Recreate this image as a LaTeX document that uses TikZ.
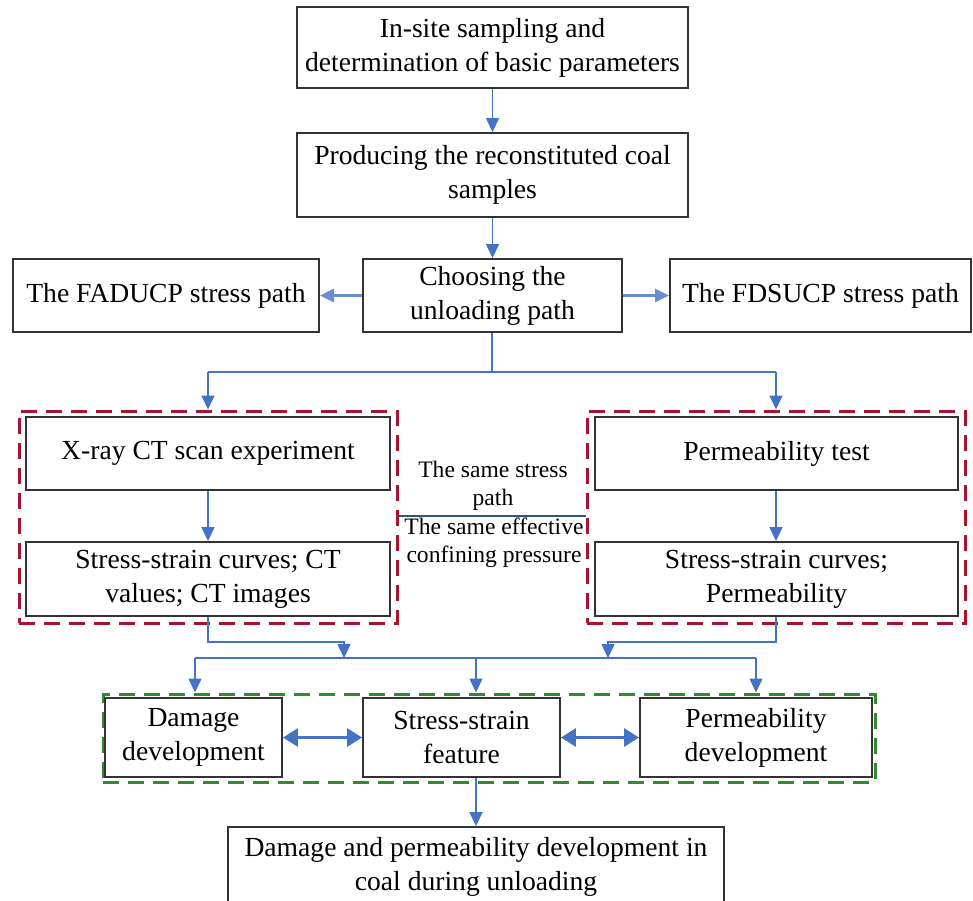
\documentclass[tikz,border=0pt]{standalone}
\usepackage{fontspec}
\setmainfont{Liberation Serif}
\usetikzlibrary{arrows.meta,fit,calc}
\definecolor{arrblue}{HTML}{4472C4}
\definecolor{dred}{HTML}{A8142F}
\definecolor{dgreen}{HTML}{2E8B2E}
\begin{document}
\begin{tikzpicture}[x=1pt,y=-1pt,
  box/.style={draw=black!80, line width=1.9pt, fill=white, inner sep=0pt, align=center,
    font=\fontsize{27.6pt}{34pt}\selectfont},
  lbl/.style={inner sep=0pt, align=center, font=\fontsize{23.6pt}{28pt}\selectfont},
  conn/.style={draw=arrblue, line width=1.5pt},
  arr/.style={conn, -{Triangle[length=14pt,width=13pt]}},
  darr/.style={draw=arrblue, line width=3pt, {Triangle[length=15pt,width=18pt]}-{Triangle[length=15pt,width=18pt]}},
  redbox/.style={draw=dred, line width=3pt, dash pattern=on 16pt off 9pt, inner sep=0pt},
  greenbox/.style={draw=dgreen, line width=3pt, dash pattern=on 16pt off 9pt, inner sep=0pt}]
\useasboundingbox (0,0) rectangle (973,900);
\clip (0,0) rectangle (973,900);

% dashed groups (drawn first)
\node[redbox, minimum width=378pt, minimum height=212pt] (rl) at (208,517) {};
\node[redbox, minimum width=378pt, minimum height=212pt] (rr) at (776,517) {};
\node[greenbox, minimum width=772pt, minimum height=88pt] (gb) at (489,738) {};

% boxes
\node[box, minimum width=391pt, minimum height=81pt] (b1) at (492.5,47.5) {In-site sampling and\\determination of basic parameters};
\node[box, minimum width=391pt, minimum height=84pt] (b2) at (492.5,175) {Producing the reconstituted coal\\samples};
\node[box, minimum width=259pt, minimum height=73pt] (b3) at (492.5,295.5) {Choosing the\\unloading path};
\node[box, minimum width=306pt, minimum height=73pt] (fad) at (166,295.5) {The FADUCP stress path};
\node[box, minimum width=301pt, minimum height=73pt] (fds) at (820.5,295.5) {The FDSUCP stress path};

\node[box, minimum width=364pt, minimum height=73pt] (xr) at (208,453.5) {X-ray CT scan experiment};
\node[box, minimum width=364pt, minimum height=74pt] (ss1) at (208,579) {Stress-strain curves; CT\\values; CT images};
\node[box, minimum width=363pt, minimum height=73pt] (pt) at (776.5,453.5) {Permeability test};
\node[box, minimum width=363pt, minimum height=74pt] (ss2) at (776.5,579) {Stress-strain curves;\\Permeability};

\node[lbl] (l1) at (493,486) {The same stress\\path};
\node[lbl] (l2) at (494,543) {The same effective\\confining pressure};

\node[box, minimum width=177pt, minimum height=79pt] (dmg) at (193.5,737.5) {Damage\\development};
\node[box, minimum width=197pt, minimum height=79pt] (ssf) at (461.5,737.5) {Stress-strain\\feature};
\node[box, minimum width=232pt, minimum height=79pt] (pd) at (756,737.5) {Permeability\\development};

\node[box, minimum width=496pt, minimum height=80pt] (fin) at (476,867) {Damage and permeability development in\\coal during unloading};

% connectors top
\draw[arr] (b1) -- (b2);
\draw[arr] (b2) -- (b3);
\draw[arr, draw=arrblue!80, line width=2.6pt] (b3) -- (fad);
\draw[arr, draw=arrblue!80, line width=2.6pt] (b3) -- (fds);

\coordinate (s0) at (492,372);
\coordinate (sl) at (208,372);
\coordinate (sr) at (776,372);
\draw[conn] (b3.south -| s0) -- (s0);
\draw[conn] (sl) -- (sr);
\draw[arr] (sl) -- (sl |- rl.north);
\draw[arr] (sr) -- (sr |- rr.north);

\draw[arr] (xr) -- (ss1);
\draw[arr] (pt.south -| sr) -- (ss2.north -| sr);

% middle separator line
\draw[draw=arrblue!70!black, line width=1.2pt] (rl.east |- 0,516) -- (rr.west |- 0,516);

% lower merging
\coordinate (k1) at (344,642);
\coordinate (j1) at (344,658);
\coordinate (k2) at (608,642);
\coordinate (j2) at (608,658);
\draw[arr] (ss1.south) |- (k1) -- (j1);
\draw[arr] (ss2.south -| sr) |- (k2) -- (j2);

\coordinate (bd) at (195,658);
\coordinate (bs) at (476,658);
\coordinate (bp) at (756,658);
\draw[conn] (bd) -- (bp);
\draw[arr] (bd) -- (bd |- gb.north);
\draw[arr] (bs) -- (bs |- gb.north);
\draw[arr] (bp) -- (bp |- gb.north);

\draw[darr] (dmg) -- (ssf);
\draw[darr] (ssf) -- (pd);

\draw[arr] (ssf.south -| bs) -- (fin.north -| bs);
\end{tikzpicture}
\end{document}
